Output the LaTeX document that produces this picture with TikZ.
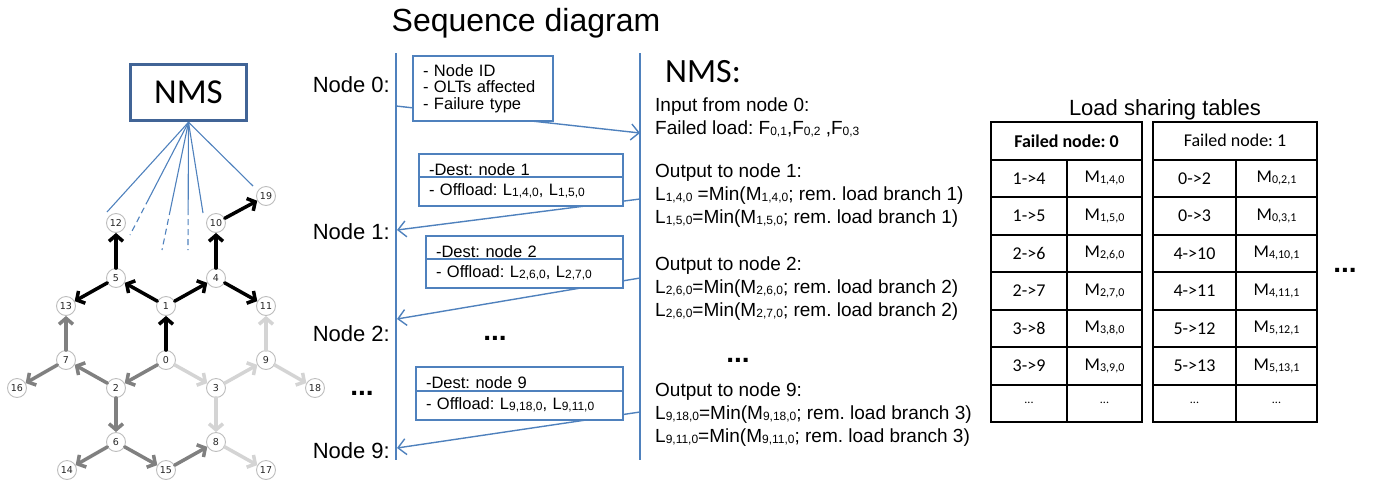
\documentclass[tikz,border=0pt]{standalone}
\usepackage{fontspec}
\setmainfont{Liberation Sans}
\newfontfamily\calfont{Carlito}
\newfontfamily\numfont{DejaVu Sans}
\usetikzlibrary{positioning,arrows.meta,calc}
\definecolor{seqblue}{RGB}{79,129,189}
\definecolor{boxblue}{RGB}{65,100,150}
\definecolor{midgray}{RGB}{128,128,128}
\definecolor{palegray}{RGB}{212,212,212}
\definecolor{ringgray}{RGB}{190,190,190}
\newcommand{\lo}[2][12]{\raisebox{-1pt}{\fontsize{#1}{#1}\selectfont #2}}
\frenchspacing

\begin{document}
\begin{tikzpicture}[x=1pt,y=-1pt]
\tikzstyle{every node}+=[inner sep=0pt]
\tikzstyle{gnode}=[circle,draw=ringgray,fill=white,line width=0.9pt,minimum size=19pt,text=black!85,font=\numfont\fontsize{9.5}{9.5}\selectfont]
\tikzstyle{hop}=[line width=3.5pt,line cap=round,line join=round,-{Straight Barb[length=6pt,width=14pt]}]
\tikzstyle{fan}=[seqblue,line width=1.1pt]
\tikzstyle{life}=[seqblue,line width=1.3pt]
\tikzstyle{msg}=[seqblue,line width=1.4pt,-{Straight Barb[length=8pt,width=16pt]}]
\tikzstyle{msgbox}=[draw=seqblue,fill=white,line width=1.3pt,outer sep=0pt,inner xsep=10pt,inner ysep=0pt,align=left,font=\fontsize{16.5}{16.5}\selectfont]
\tikzstyle{destpart}=[msgbox,anchor=north west,minimum height=23pt,text height=19pt,text depth=0pt]
\tikzstyle{offpart}=[msgbox,anchor=north west,minimum height=29pt,text height=11pt,text depth=4pt]
\tikzstyle{lifelabel}=[anchor=base east,font=\fontsize{22}{22}\selectfont]
\tikzstyle{nmsline}=[anchor=base west,font=\fontsize{19}{19}\selectfont]
\tikzstyle{dots}=[font=\bfseries\fontsize{28}{28}\selectfont]
\tikzstyle{cell}=[draw=black,line width=2pt,outer sep=0pt,anchor=north west,minimum height=37.5pt,font=\calfont\fontsize{18}{18}\selectfont]
\useasboundingbox (0,0) rectangle (1381,485);

\node[draw=boxblue,line width=3.5pt,minimum width=116pt,minimum height=56pt,font=\calfont\fontsize{35}{35}\selectfont] (nms) at (188.5,92.5) {NMS};
\coordinate (fa) at (107,212);
\coordinate (fb) at (130,235);
\coordinate (fc) at (162,250);
\coordinate (fd) at (188,250);
\coordinate (fe) at (203,213);
\coordinate (ff) at (253,186);
\draw[fan] (nms.south) -- (fa);
\draw[fan] (nms.south) -- (fe);
\draw[fan] (nms.south) -- (ff);
\foreach \e in {fb,fc,fd}{
  \draw[fan] (nms.south) -- ($(nms.south)!0.68!(\e)$) coordinate (\e0);
  \draw[fan,dash pattern=on 6pt off 4pt] (\e0) -- (\e);
}

\foreach \n/\x/\y in {0/166/360,1/166/306,2/116/388,3/216/388,4/216/278,5/116/278,6/116/442,7/66/360,8/216/442,9/266/360,10/216/223,11/266/306,12/116/223,13/66/306,14/67/470,15/166/470,16/17/388,17/266/470,18/315/388,19/266/196}
  \node[gnode] (n\n) at (\x,\y) {\n};
\foreach \a/\b in {0/1,1/5,1/4,5/12,5/13,4/10,4/11,10/19}
  \draw[hop,black] (n\a) -- (n\b);
\foreach \a/\b in {0/2,2/7,7/13,7/16,2/6,6/14,6/15,15/8}
  \draw[hop,midgray] (n\a) -- (n\b);
\foreach \a/\b in {0/3,3/9,9/11,9/18,3/8,8/17}
  \draw[hop,palegray] (n\a) -- (n\b);

\node[anchor=base,font=\fontsize{32}{32}\selectfont] (title) at (526,31) {Sequence diagram};
\coordinate (la) at (396,53);
\coordinate (lb) at (396,460);
\coordinate (ra) at (640,53);
\coordinate (rb) at (640,460);
\draw[life] (la) -- (lb);
\draw[life] (ra) -- (rb);
\node[lifelabel] (lab0) at (390,92) {Node 0:};
\node[lifelabel] (lab1) at (390,239) {Node 1:};
\node[lifelabel] (lab2) at (390,341) {Node 2:};
\node[lifelabel] (lab9) at (390,458) {Node 9:};
\node[dots] (dotsa) at (362,393) {...};
\node[dots] (dotsb) at (495,338) {...};

\coordinate (m0a) at (396,106);
\coordinate (m0b) at (640,133);
\coordinate (m1a) at (640,199);
\coordinate (m1b) at (397,230);
\coordinate (m2a) at (640,278);
\coordinate (m2b) at (397,319);
\coordinate (m9a) at (640,412);
\coordinate (m9b) at (397,448);
\draw[msg] (m0a) -- (m0b);
\draw[msg] (m1a) -- (m1b);
\draw[msg] (m2a) -- (m2b);
\draw[msg] (m9a) -- (m9b);

\node[msgbox,anchor=north west,minimum width=140pt,minimum height=65pt,text width=120pt] (info) at (413,56) {- Node ID\\- OLTs affected\\- Failure type};
\node[destpart,minimum width=204pt,text width=184pt] (dest1) at (419,154) {-Dest: node 1};
\node[offpart,minimum width=204pt,text width=184pt] (off1) at (dest1.south west) {- Offload: L\lo{1,4,0}, L\lo{1,5,0}};
\node[destpart,minimum width=197pt,text width=177pt] (dest2) at (426,236) {-Dest: node 2};
\node[offpart,minimum width=197pt,text width=177pt] (off2) at (dest2.south west) {- Offload: L\lo{2,6,0}, L\lo{2,7,0}};
\node[destpart,minimum width=207pt,text width=187pt,minimum height=24pt] (dest9) at (416,367) {-Dest: node 9};
\node[offpart,minimum width=207pt,text width=187pt] (off9) at (dest9.south west) {- Offload: L\lo{9,18,0}, L\lo{9,11,0}};

\node[anchor=base west,font=\calfont\fontsize{34}{34}\selectfont] (nmshead) at (665,82) {NMS:};
\foreach \k/\y/\t in {1/111/{Input from node 0:},2/134/{Failed load: F\lo{0,1},F\lo{0,2} ,F\lo{0,3}},
  3/177/{Output to node 1:},4/200/{L\lo{1,4,0} =Min(M\lo{1,4,0}; rem. load branch 1)},5/223/{L\lo{1,5,0}=Min(M\lo{1,5,0}; rem. load branch 1)},
  6/270/{Output to node 2:},7/293/{L\lo{2,6,0}=Min(M\lo{2,6,0}; rem. load branch 2)},8/316/{L\lo{2,6,0}=Min(M\lo{2,7,0}; rem. load branch 2)},
  9/396/{Output to node 9:},10/419/{L\lo{9,18,0}=Min(M\lo{9,18,0}; rem. load branch 3)},11/442/{L\lo{9,11,0}=Min(M\lo{9,11,0}; rem. load branch 3)}}
  \node[nmsline] (r\k) at (655,\y) {\t};
\node[dots] (dotsc) at (738,360) {...};

\node[anchor=base,font=\fontsize{22}{22}\selectfont] (tabtitle) at (1165,115) {Load sharing tables};
\node[cell,minimum width=151pt] (tahead) at (991,122) {\bfseries Failed node: 0};
\foreach \i/\a/\b in {1/1->4/{1,4,0},2/1->5/{1,5,0},3/2->6/{2,6,0},4/2->7/{2,7,0},5/3->8/{3,8,0},6/3->9/{3,9,0}}{
  \node[cell,minimum width=76pt] (ta\i) at (991,122+37.5*\i) {\a};
  \node[cell,minimum width=75pt] (tb\i) at (ta\i.north east) {M\lo{\b}};
}
\node[cell,minimum width=76pt,font=\calfont\fontsize{12}{12}\selectfont] (ta7) at (991,384.5) {...};
\node[cell,minimum width=75pt,font=\calfont\fontsize{12}{12}\selectfont] (tb7) at (ta7.north east) {...};
\node[cell,minimum width=164pt] (tchead) at (1153,122) {Failed node: 1};
\foreach \i/\a/\b in {1/0->2/{0,2,1},2/0->3/{0,3,1},3/4->10/{4,10,1},4/4->11/{4,11,1},5/5->12/{5,12,1},6/5->13/{5,13,1}}{
  \node[cell,minimum width=83pt] (tc\i) at (1153,122+37.5*\i) {\a};
  \node[cell,minimum width=81pt] (td\i) at (tc\i.north east) {M\lo{\b}};
}
\node[cell,minimum width=83pt,font=\calfont\fontsize{12}{12}\selectfont] (tc7) at (1153,384.5) {...};
\node[cell,minimum width=81pt,font=\calfont\fontsize{12}{12}\selectfont] (td7) at (tc7.north east) {...};
\node[dots] (dotsd) at (1345,270) {...};
\end{tikzpicture}
\end{document}
